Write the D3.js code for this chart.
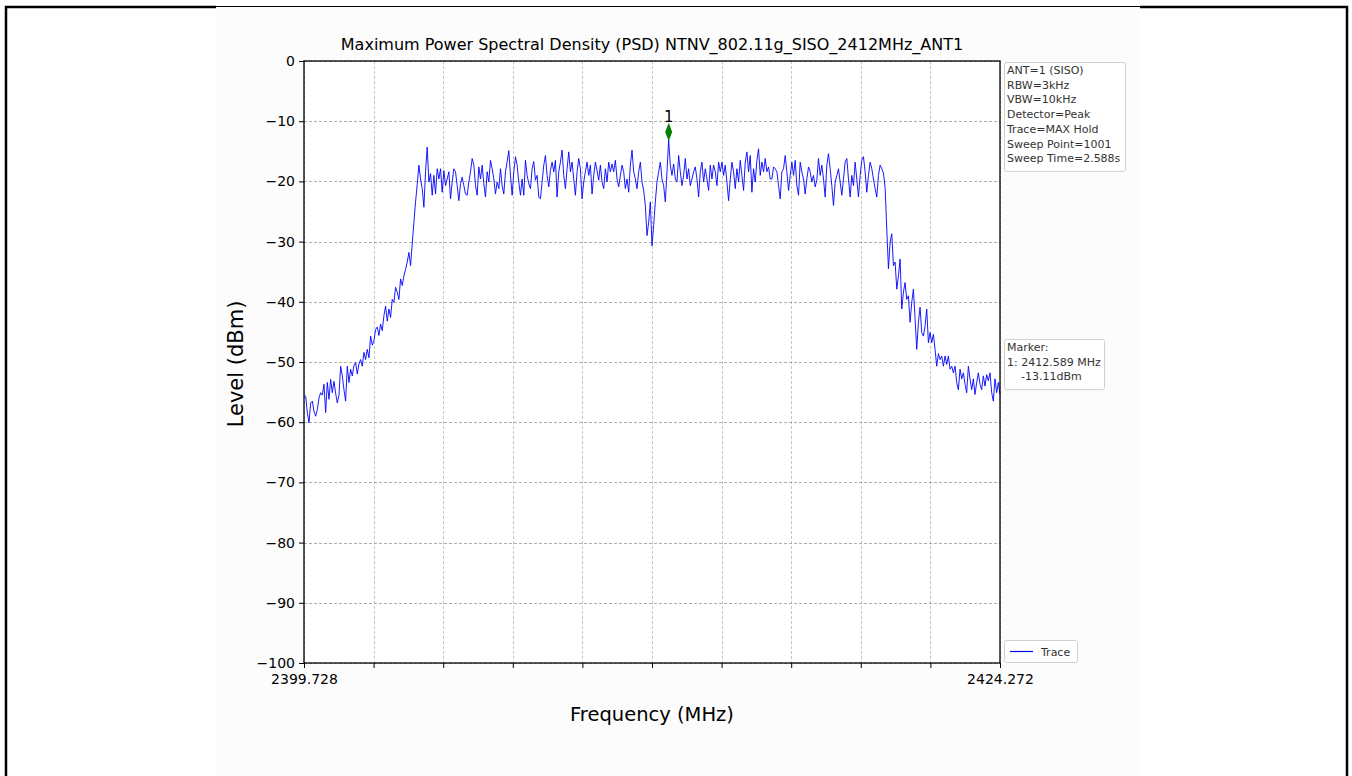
<!DOCTYPE html>
<html>
<head>
<meta charset="utf-8">
<script src="https://cdn.jsdelivr.net/npm/d3@7"></script>
<style>
    body { margin: 0; background: #fff; }
    text { font-family: "DejaVu Sans", sans-serif; }
</style>
</head>
<body>
<div id="chart"></div>
<script>
// sweep settings
const freqStart = 2399.728;
const freqStop = 2424.272;
const freqTicks = [2399.728, 2424.272];
const levelTicks = [0, -10, -20, -30, -40, -50, -60, -70, -80, -90, -100];

// trace levels (dBm) left to right
const levelsLow = [
    -55.4, -55.7, -58.4, -60.1, -56.8, -56.5, -58.2, -59, -57.9, -56, -55.1, -55.5, -53.7, -58.4, -53.4, -56.2,
    -52.9, -55.1, -53.2, -55.2, -56.8, -55.5, -50.7, -52.3, -54.6, -56.5, -50.7, -53.4, -51.2, -52.3, -50.6, -50.1,
    -52, -50.3, -49.6, -50.7, -48.4, -49.6, -47.9, -49.3, -45.7, -47.2, -46.5, -44.6, -44.2, -45.6, -43.7, -44.8,
    -42.3, -40.7, -43.2, -41.2, -42.6, -39.6, -40.1, -37.6, -38.4, -39.6, -36.2, -37.3, -35.7, -34.6, -33.4, -31.8,
    -34, -30.4, -26.8, -23.4, -20.5, -17.3, -19.6, -21.2, -24.3, -18.4, -14.3, -20.1, -18.7, -22.3, -19, -22.1,
    -17.9, -19.6, -17.9, -21.8, -18.2, -20.7, -19.6, -18.4, -22.9, -20.1, -17.9, -18.4, -20.7, -23.2, -20.4, -19.3,
    -20.7, -22.1, -22.3, -20.1, -18.4, -16.2, -17.3, -20.7, -22.3, -17.6, -19.6, -17.3, -20.4, -22.6, -18.4, -20.1,
    -16.5, -17.9, -19.6, -22.1, -20.1, -21.2, -17.9, -20.7, -22.1, -18.4, -16.7, -14.9, -19, -22.3, -18.4, -15.9,
    -17.3, -20.1, -22.3, -19.6, -22.3, -16.5, -19, -20.4, -21.2, -17.9, -16.7, -19.8, -19, -22.6
];
const levelsMid = [
    -22.9, -20.1, -17.3, -15.7, -19, -20.9, -18.2, -16.8, -18.4, -16.5, -22.6, -18.4, -16.8, -14.8, -19, -21.2,
    -17.9, -15.1, -18.4, -16.8, -19.6, -22.3, -18.4, -16.2, -17.9, -22.9, -20.1, -18.4, -16.8, -19, -17.3, -22.1,
    -19, -16.8, -18.2, -19.8, -17.3, -20.1, -21.2, -17.9, -20.1, -16.8, -18.4, -17.1, -18.4, -16.5, -19.6, -20.9,
    -19, -17.3, -18.4, -21.2, -19.6, -21.8, -17.3, -14.8, -18.4, -19.6, -21.2, -18.4, -16.8, -20.1, -21.5, -24,
    -29, -26.8, -23.4, -30.7, -27.3, -23.4, -20.1, -18.4, -16.8, -19.6, -20.7, -23.4, -18.4, -13.11, -17.3, -19,
    -17.1, -19.6, -20.1, -15.7, -18.4, -20.7, -19, -16.2, -19.6, -17.9, -20.7, -19.6, -18.4, -17.6, -19.6, -22.6,
    -18.4, -16.8, -20.1, -17.9, -19.6, -21.5, -17.3, -19.6, -17.3, -18.4, -20.7, -16.8, -18.4, -16.8, -19, -17.3,
    -20.1, -23.2, -19.6, -16.8, -18.4, -21.2, -17.9, -20.1, -16.5, -19, -21.5, -16.8, -15.1, -18.4, -15.7, -21.8,
    -17.9, -20.1, -16.5, -14.6, -19, -16.8, -18.4, -16.2, -18.4, -17.6, -19.6
];
const levelsHigh = [
    -19.6, -17.6, -17.9, -18.4, -20.7, -22.9, -18.4, -17.9, -15.7, -18.4, -21.5, -19, -16.8, -19, -16.5, -20.7,
    -22.3, -16.8, -18.4, -19.6, -22.1, -19.6, -17.6, -18.4, -20.1, -19, -20.9, -19.8, -16.2, -19, -17.3, -19.6,
    -22.6, -17.3, -15.4, -17.9, -20.7, -24, -20.1, -19, -17.9, -20.1, -22.3, -19.6, -16.8, -16.2, -19.6, -22.6,
    -19, -20.7, -16.8, -19.6, -22.6, -19, -16.5, -15.9, -18.4, -21.8, -19, -16.8, -17.9, -19.6, -21.2, -22.6,
    -19, -17.3, -17.9, -18.6, -21, -27.9, -34.5, -30.1, -28.7, -34, -33.4, -37.9, -35.7, -32.9, -41.2, -38.4,
    -36.8, -39.6, -39, -43.4, -40.1, -37.9, -42.8, -47.9, -43.4, -40.9, -45.1, -45.7, -44, -41.2, -46.8, -45.1,
    -46.8, -45.4, -47.9, -50.7, -48.6, -49.6, -49, -50.7, -49, -50.4, -49, -51.2, -50.7, -51.8, -50.7, -53.4,
    -54.6, -51.2, -52.8, -51.8, -53.7, -55.1, -50.7, -52.8, -54.6, -52.8, -55.4, -53.4, -51.8, -53.7, -54.6, -52.3,
    -54, -52.1, -53.1, -51.8, -55.1, -56.5, -52.8, -55.1, -53.4, -55.4
];

const markerFreq = 2412.589;
const markerLevel = -13.11;
const markerName = "1";

const infoLines = ["ANT=1 (SISO)", "RBW=3kHz", "VBW=10kHz", "Detector=Peak",
    "Trace=MAX Hold", "Sweep Point=1001", "Sweep Time=2.588s"];
const markerLines = ["Marker:", "1: 2412.589 MHz", "    -13.11dBm"];

const levels = [...levelsLow, ...levelsMid, ...levelsHigh];
const step = (freqStop - freqStart) / (levels.length - 1);
const trace = levels.map((v, i) => ({ freq: freqStart + i * step, level: v }));

const W = 1352, H = 776;
const margin = { top: 61, left: 304 };
const width = 696;
const height = 602;

const root = d3.select("#chart").append("svg")
    .attr("width", W)
    .attr("height", H);

// figure background and outer frame
root.append("rect")
    .attr("x", 216).attr("y", 6)
    .attr("width", 924).attr("height", 770)
    .attr("fill", "#fcfcfc");

root.append("path")
    .attr("d", "M6,776 V7 H216 M1140,7 H1347 V776")
    .attr("fill", "none")
    .attr("stroke", "#000")
    .attr("stroke-width", 2.5);
root.append("line")
    .attr("x1", 216).attr("x2", 1140)
    .attr("y1", 6.5).attr("y2", 6.5)
    .attr("stroke", "#000")
    .attr("stroke-width", 1);

const svg = root.append("g")
    .attr("transform", `translate(${margin.left},${margin.top})`);

const x = d3.scaleLinear().domain([freqStart, freqStop]).range([0, width]);
const y = d3.scaleLinear().domain([-100, 0]).range([height, 0]);

svg.append("rect")
    .attr("width", width).attr("height", height)
    .attr("fill", "#fff");

// grid
const gridTicks = d3.range(11).map(i => freqStart + i * (freqStop - freqStart) / 10);

svg.append("g")
    .selectAll("line")
    .data(gridTicks)
    .join("line")
    .attr("x1", d => Math.round(x(d)) + 0.5)
    .attr("x2", d => Math.round(x(d)) + 0.5)
    .attr("y1", 0).attr("y2", height)
    .attr("stroke", "#b8b8b8")
    .attr("stroke-width", 0.8)
    .attr("stroke-dasharray", "3,2");

svg.append("g")
    .selectAll("line")
    .data(levelTicks)
    .join("line")
    .attr("x1", 0).attr("x2", width)
    .attr("y1", d => Math.round(y(d)) + 0.5)
    .attr("y2", d => Math.round(y(d)) + 0.5)
    .attr("stroke", "#9a9a9a")
    .attr("stroke-width", 0.8)
    .attr("stroke-dasharray", "3,2");

// trace
const line = d3.line()
    .x(d => x(d.freq))
    .y(d => y(d.level));

svg.append("path")
    .datum(trace)
    .attr("d", line)
    .attr("fill", "none")
    .attr("stroke", "#0000ff")
    .attr("stroke-width", 0.9)
    .attr("stroke-linejoin", "round");

// marker
const mx = x(markerFreq), my = y(markerLevel) - 8;
svg.append("path")
    .attr("d", d3.symbol().type(d3.symbolDiamond).size(75)())
    .attr("transform", `translate(${mx},${my}) scale(0.75,1.15)`)
    .attr("fill", "#007f00");
svg.append("text")
    .attr("x", mx)
    .attr("y", my - 10)
    .attr("text-anchor", "middle")
    .style("font-size", "15px")
    .style("fill", "#000")
    .text(markerName);

// axes
const yAxis = svg.append("g")
    .call(d3.axisLeft(y).tickValues(levelTicks).tickSize(5).tickPadding(4));
const xAxis = svg.append("g")
    .attr("transform", `translate(0,${height})`)
    .call(d3.axisBottom(x).tickValues(gridTicks).tickSize(5).tickPadding(6)
        .tickFormat(d => freqTicks.some(t => Math.abs(t - d) < 1e-6) ? d3.format(".3f")(d) : ""));

[yAxis, xAxis].forEach(a => {
    a.select(".domain").remove();
    a.selectAll(".tick line").attr("stroke", "#000").attr("stroke-width", 1);
    a.selectAll("text").style("font-size", "14px").style("font-family", "DejaVu Sans").attr("fill", "#000");
});

// spines
svg.append("rect")
    .attr("width", width).attr("height", height)
    .attr("fill", "none")
    .attr("stroke", "#000")
    .attr("stroke-width", 1.3);

// title and labels
root.append("text")
    .attr("x", margin.left + width / 2)
    .attr("y", 50)
    .attr("text-anchor", "middle")
    .style("font-size", "16px")
    .text("Maximum Power Spectral Density (PSD) NTNV_802.11g_SISO_2412MHz_ANT1");

root.append("text")
    .attr("x", margin.left + width / 2)
    .attr("y", 721)
    .attr("text-anchor", "middle")
    .style("font-size", "19.5px")
    .text("Frequency (MHz)");

root.append("text")
    .attr("transform", `translate(243,${margin.top + height / 2 + 2}) rotate(-90)`)
    .attr("text-anchor", "middle")
    .style("font-size", "21px")
    .text("Level (dBm)");

// text boxes right of the plot
function textBox(lines, bx, by, bw) {
    const lh = 14.7;
    root.append("rect")
        .attr("x", bx + 0.5).attr("y", by + 0.5)
        .attr("width", bw).attr("height", lines.length * lh + 6)
        .attr("rx", 2)
        .attr("fill", "#fff")
        .attr("stroke", "#d0d0d0");
    root.append("g").selectAll("text")
        .data(lines)
        .join("text")
        .attr("x", bx + 3)
        .attr("y", (d, i) => by + 12 + i * lh)
        .style("font-size", "11px")
        .style("fill", "#333")
        .style("white-space", "pre")
        .attr("xml:space", "preserve")
        .text(d => d);
}
textBox(infoLines, 1004, 62, 121);
textBox(markerLines, 1004, 339, 100);

// legend
const lg = root.append("g").attr("transform", "translate(1004,640)");
lg.append("rect")
    .attr("x", 0.5).attr("y", 0.5)
    .attr("width", 73).attr("height", 22)
    .attr("rx", 2)
    .attr("fill", "#fff")
    .attr("stroke", "#d0d0d0");
lg.append("line")
    .attr("x1", 6).attr("x2", 29)
    .attr("y1", 11.5).attr("y2", 11.5)
    .attr("stroke", "#0000ff")
    .attr("stroke-width", 1.2);
lg.append("text")
    .attr("x", 37).attr("y", 15.5)
    .style("font-size", "11px")
    .style("fill", "#333")
    .text("Trace");
</script>
</body>
</html>
